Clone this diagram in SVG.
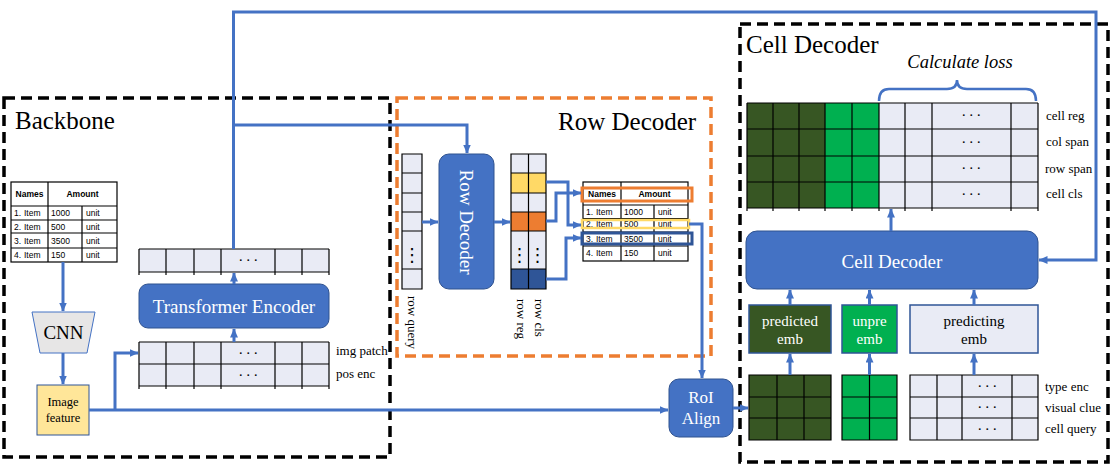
<svg xmlns="http://www.w3.org/2000/svg" width="1114" height="473" viewBox="0 0 1114 473">
<style>
.dk{fill:none;stroke:#000;stroke-width:3.5;stroke-dasharray:11 6}
.do{fill:none;stroke:#ed7d31;stroke-width:3.5;stroke-dasharray:11 6}
.conn{fill:none;stroke:#4472c4;stroke-width:3}
.arr{marker-end:url(#ah)}
.blk{fill:#4472c4;stroke:#2f528f;stroke-width:1}
.lt{fill:#e9ebf5}
.dg{fill:#375623}
.gr{fill:#00b050}
.gl{fill:none;stroke:#000;stroke-width:1.2}
.title{font-family:"Liberation Serif",serif;font-size:25px;fill:#000}
.lbl{font-family:"Liberation Serif",serif;font-size:13px;fill:#000}
.wt{font-family:"Liberation Serif",serif;fill:#fff}
.tb{font-family:"Liberation Sans",Arial,sans-serif;font-size:8.5px;fill:#000}
.tbh{font-family:"Liberation Sans",Arial,sans-serif;font-size:8.5px;font-weight:bold;fill:#000}
.dots{font-family:"Liberation Serif",serif;font-size:15px;letter-spacing:2.5px;fill:#000}
.vd{font-family:"DejaVu Sans",sans-serif;font-size:18px;fill:#000}
</style>
<defs>
<marker id="ah" markerUnits="userSpaceOnUse" markerWidth="10" markerHeight="8" refX="8.5" refY="4" orient="auto">
<path d="M0,0 L9,4 L0,8 z" fill="#4472c4"/>
</marker>
</defs>
<rect width="1114" height="473" fill="#fff"/>

<g id="frames">
<rect class="dk" x="4" y="98" width="386" height="359"/>
<rect class="do" x="397" y="98" width="314" height="258"/>
<rect class="dk" x="740" y="24" width="368" height="438"/>
<text class="title" x="15" y="129">Backbone</text>
<text class="title" x="558" y="130">Row Decoder</text>
<text class="title" x="746" y="53">Cell Decoder</text>
</g>

<g id="input-table">
<rect x="11" y="182" width="106" height="80" fill="#fff" stroke="#000" stroke-width="1.2"/>
<path class="gl" d="M11,206 H117 M11,220 H117 M11,233 H117 M11,248 H117 M48,182 V262 M82,206 V262"/>
<text class="tbh" x="29.5" y="197" text-anchor="middle">Names</text>
<text class="tbh" x="82.5" y="197" text-anchor="middle">Amount</text>
<text class="tb" x="14" y="216">1.<tspan x="24">Item</tspan></text><text class="tb" x="51" y="216">1000</text><text class="tb" x="86" y="216">unit</text>
<text class="tb" x="14" y="229.5">2.<tspan x="24">Item</tspan></text><text class="tb" x="51" y="229.5">500</text><text class="tb" x="86" y="229.5">unit</text>
<text class="tb" x="14" y="243.5">3.<tspan x="24">Item</tspan></text><text class="tb" x="51" y="243.5">3500</text><text class="tb" x="86" y="243.5">unit</text>
<text class="tb" x="14" y="258">4.<tspan x="24">Item</tspan></text><text class="tb" x="51" y="258">150</text><text class="tb" x="86" y="258">unit</text>
</g>

<g id="cnn">
<path d="M32,312 H95 L87,353 H40 Z" fill="#e7e6e6" stroke="#4472c4" stroke-width="1"/>
<text x="63.5" y="339" text-anchor="middle" font-family="Liberation Serif, serif" font-size="19">CNN</text>
</g>

<g id="image-feature">
<rect x="37" y="385" width="52" height="50" fill="#ffe699" stroke="#2f5597" stroke-width="1"/>
<text x="63" y="406" text-anchor="middle" font-family="Liberation Serif, serif" font-size="12.5">Image</text>
<text x="63" y="422" text-anchor="middle" font-family="Liberation Serif, serif" font-size="12.5">feature</text>
</g>

<g id="patch-tokens">
<rect class="lt" x="139" y="342" width="190" height="44"/>
<path class="gl" d="M139,342 H329 M139,364 H329 M139,386 H329 M139,342 V389 M166,342 V389 M194,342 V389 M221,342 V389 M275,342 V389 M302,342 V389 M329,342 V389"/>
<text class="dots" x="249.5" y="358" text-anchor="middle">···</text>
<text class="dots" x="249.5" y="380" text-anchor="middle">···</text>
<text class="lbl" x="336" y="355">img patch</text>
<text class="lbl" x="336" y="378">pos enc</text>
</g>

<g id="transformer-encoder">
<rect class="blk" x="139" y="284" width="190" height="44" rx="9"/>
<text class="wt" x="234" y="313" text-anchor="middle" font-size="19">Transformer Encoder</text>
</g>

<g id="encoder-output">
<rect class="lt" x="139" y="249" width="190" height="23"/>
<path class="gl" d="M139,249 H329 M139,272 H329 M139,249 V275 M166,249 V275 M194,249 V275 M221,249 V275 M275,249 V275 M302,249 V275 M329,249 V275"/>
<text class="dots" x="249.5" y="265" text-anchor="middle">···</text>
</g>

<g id="row-query">
<rect class="lt" x="402" y="154" width="20" height="135"/>
<path class="gl" d="M402,154 H422 V289 H402 Z M402,173 H422 M402,193 H422 M402,212 H422 M402,231 H422 M402,269 H422"/>
<text class="vd" x="412" y="261" text-anchor="middle">⋮</text>
<text class="lbl" transform="translate(412,296) rotate(90)" dominant-baseline="central">row query</text>
</g>

<g id="row-decoder">
<rect class="blk" x="439" y="154" width="55" height="135" rx="10"/>
<text class="wt" font-size="19" transform="translate(466.5,222) rotate(90)" text-anchor="middle" dominant-baseline="central">Row Decoder</text>
</g>

<g id="row-outputs">
<rect class="lt" x="511" y="154" width="35" height="135"/>
<rect x="511" y="173" width="35" height="20" fill="#ffd966"/>
<rect x="511" y="212" width="35" height="19" fill="#ed7d31"/>
<rect x="511" y="269" width="35" height="20" fill="#2f5597"/>
<path class="gl" d="M511,154 H546 V289 H511 Z M528.5,154 V289 M511,173 H546 M511,193 H546 M511,212 H546 M511,231 H546 M511,269 H546"/>
<text class="vd" x="519.5" y="261" text-anchor="middle">⋮</text>
<text class="vd" x="537.5" y="261" text-anchor="middle">⋮</text>
<text class="lbl" transform="translate(521,299) rotate(90)" dominant-baseline="central">row reg</text>
<text class="lbl" transform="translate(539,299) rotate(90)" dominant-baseline="central">row cls</text>
</g>

<g id="row-table">
<rect x="583" y="182" width="105" height="79" fill="#fff" stroke="#000" stroke-width="1.2"/>
<path class="gl" d="M583,205 H688 M583,218.5 H688 M583,232 H688 M583,246 H688 M621,182 V261 M654,205 V261"/>
<text class="tbh" x="602" y="197" text-anchor="middle">Names</text>
<text class="tbh" x="654.5" y="197" text-anchor="middle">Amount</text>
<text class="tb" x="586" y="215">1.<tspan x="596">Item</tspan></text><text class="tb" x="624" y="215">1000</text><text class="tb" x="658" y="215">unit</text>
<text class="tb" x="586" y="227">2.<tspan x="596">Item</tspan></text><text class="tb" x="624" y="227">500</text><text class="tb" x="658" y="227">unit</text>
<text class="tb" x="586" y="242">3.<tspan x="596">Item</tspan></text><text class="tb" x="624" y="242">3500</text><text class="tb" x="658" y="242">unit</text>
<text class="tb" x="586" y="256">4.<tspan x="596">Item</tspan></text><text class="tb" x="624" y="256">150</text><text class="tb" x="658" y="256">unit</text>
<rect x="582" y="188" width="110" height="13" fill="none" stroke="#ed7d31" stroke-width="3"/>
<rect x="582" y="220" width="107" height="8" fill="none" stroke="#ffd966" stroke-width="2.5"/>
<rect x="582" y="233" width="110" height="11" fill="none" stroke="#2f5597" stroke-width="3"/>
</g>

<g id="roi-align">
<rect class="blk" x="669" y="379" width="64" height="58" rx="10"/>
<text class="wt" x="701" y="403" text-anchor="middle" font-size="17">RoI</text>
<text class="wt" x="701" y="424" text-anchor="middle" font-size="17">Align</text>
</g>

<g id="cell-outputs">
<rect class="dg" x="747" y="103" width="78" height="105"/>
<rect class="gr" x="825" y="103" width="54" height="105"/>
<rect class="lt" x="879" y="103" width="159" height="105"/>
<path class="gl" d="M747,103 H1038 M747,129 H1038 M747,156 H1038 M747,182 H1038 M747,208 H1038 M747,103 V211 M773,103 V211 M799,103 V211 M825,103 V211 M852,103 V211 M879,103 V211 M905,103 V211 M932,103 V211 M1011,103 V211 M1038,103 V211"/>
<text class="dots" x="972.5" y="120" text-anchor="middle">···</text>
<text class="dots" x="972.5" y="147" text-anchor="middle">···</text>
<text class="dots" x="972.5" y="173" text-anchor="middle">···</text>
<text class="dots" x="972.5" y="199" text-anchor="middle">···</text>
<text class="lbl" x="1046" y="120">cell reg</text>
<text class="lbl" x="1046" y="146">col span</text>
<text class="lbl" x="1045" y="173">row span</text>
<text class="lbl" x="1046" y="198">cell cls</text>
<path d="M879,101 Q879,89 889,89 L947,89 Q957,89 957,80 Q957,89 967,89 L1026,89 Q1036,89 1036,101" fill="none" stroke="#4472c4" stroke-width="2.5"/>
<text x="960" y="68" text-anchor="middle" font-family="Liberation Serif, serif" font-style="italic" font-size="18.5">Calculate loss</text>
</g>

<g id="cell-decoder">
<rect class="blk" x="746" y="231" width="292" height="58" rx="11"/>
<text class="wt" x="892" y="268" text-anchor="middle" font-size="19">Cell Decoder</text>
</g>

<g id="predicted-emb">
<rect class="dg" x="749" y="305" width="82" height="48" stroke="#2f5597" stroke-width="1.5"/>
<text class="wt" x="790" y="326" text-anchor="middle" font-size="15">predicted</text>
<text class="wt" x="790" y="344" text-anchor="middle" font-size="15">emb</text>
</g>
<g id="unpre-emb">
<rect class="gr" x="842" y="305" width="55" height="48" stroke="#2f5597" stroke-width="1.5"/>
<text class="wt" x="869.5" y="326" text-anchor="middle" font-size="15">unpre</text>
<text class="wt" x="869.5" y="344" text-anchor="middle" font-size="15">emb</text>
</g>
<g id="predicting-emb">
<rect class="lt" x="910" y="305" width="128" height="48" stroke="#2f5597" stroke-width="1.5"/>
<text x="974" y="326" text-anchor="middle" font-family="Liberation Serif, serif" font-size="15">predicting</text>
<text x="974" y="344" text-anchor="middle" font-family="Liberation Serif, serif" font-size="15">emb</text>
</g>

<g id="cell-queries">
<rect class="dg" x="749" y="375" width="82" height="65"/>
<rect class="gr" x="842" y="375" width="55" height="65"/>
<rect class="lt" x="910" y="375" width="128" height="65"/>
<path class="gl" d="M749,375 H831 V440 H749 Z M749,397 H831 M749,418 H831 M777,375 V440 M804,375 V440"/>
<path class="gl" d="M842,375 H897 V440 H842 Z M842,397 H897 M842,418 H897 M869.5,375 V440"/>
<path class="gl" d="M910,375 H1038 V440 H910 Z M910,397 H1038 M910,418 H1038 M937,375 V440 M962,375 V440 M1012,375 V440"/>
<text class="dots" x="988.5" y="391" text-anchor="middle">···</text>
<text class="dots" x="988.5" y="412" text-anchor="middle">···</text>
<text class="dots" x="988.5" y="434" text-anchor="middle">···</text>
<text class="lbl" x="1045" y="391">type enc</text>
<text class="lbl" x="1045" y="412">visual clue</text>
<text class="lbl" x="1045" y="433">cell query</text>
</g>

<g id="connectors">
<path class="conn arr" d="M233.5,249 V12 H1096 V260 H1039"/>
<path class="conn arr" d="M233.5,125 H467 V153"/>
<path class="conn arr" d="M63,262 V311"/>
<path class="conn arr" d="M63,353 V384"/>
<path class="conn arr" d="M89,410 H668"/>
<path class="conn arr" d="M115,410 V353 H138"/>
<path class="conn arr" d="M234,342 V329"/>
<path class="conn arr" d="M234,284 V273"/>
<path class="conn arr" d="M422,222 H438"/>
<path class="conn arr" d="M494,222 H510"/>
<path class="conn arr" d="M546,182 H568 V225 H581"/>
<path class="conn arr" d="M546,221 H556 V193 H581"/>
<path class="conn arr" d="M546,279 H566 V238 H581"/>
<path class="conn arr" d="M689,224 H702 V378"/>
<path class="conn arr" d="M733,408 H748"/>
<path class="conn arr" d="M891,231 V209"/>
<path class="conn arr" d="M790,305 V290"/>
<path class="conn arr" d="M869.5,305 V290"/>
<path class="conn arr" d="M974,305 V290"/>
<path class="conn arr" d="M790,375 V354"/>
<path class="conn arr" d="M869.5,375 V354"/>
<path class="conn arr" d="M974,375 V354"/>
</g>
</svg>
